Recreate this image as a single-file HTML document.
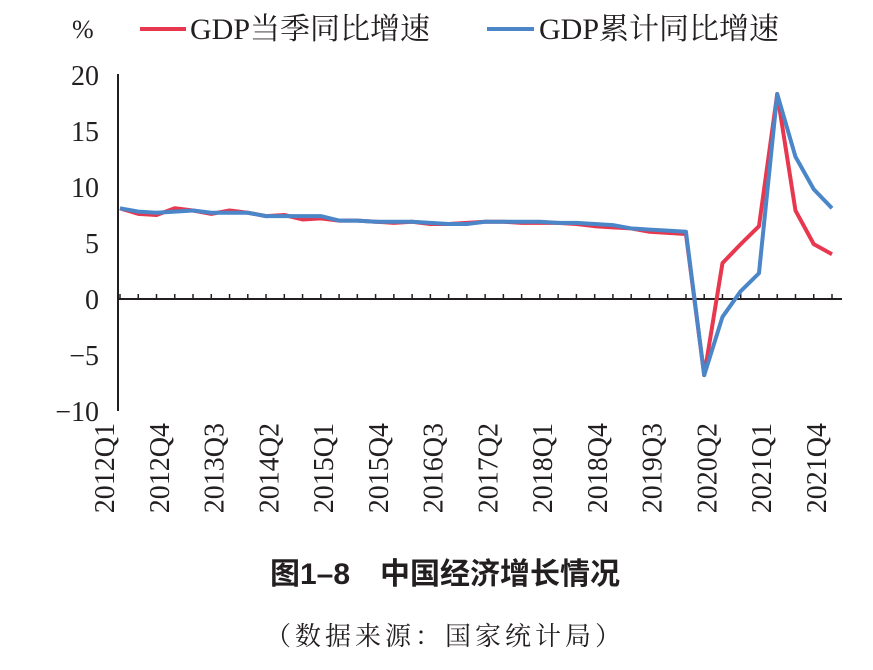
<!DOCTYPE html>
<html><head><meta charset="utf-8"><style>
body{margin:0;background:#fff}
svg text{font-family:"Liberation Serif","Noto Serif CJK SC",serif}
</style></head><body>
<svg id="c" width="873" height="665" xmlns="http://www.w3.org/2000/svg"></svg>
<script>
const quarters=[];for(let y=2012;y<=2021;y++)for(let q=1;q<=4;q++)quarters.push(y+'Q'+q);
const quarterly=[8.1,7.6,7.5,8.1,7.9,7.6,7.9,7.7,7.4,7.5,7.1,7.2,7.0,7.0,6.9,6.8,6.9,6.7,6.7,6.8,6.9,6.9,6.8,6.8,6.8,6.7,6.5,6.4,6.3,6.0,5.9,5.8,-6.8,3.2,4.9,6.5,18.3,7.9,4.9,4.0];
const cumulative=[8.1,7.8,7.7,7.8,7.9,7.7,7.7,7.7,7.4,7.4,7.4,7.4,7.0,7.0,6.9,6.9,6.9,6.8,6.7,6.7,6.9,6.9,6.9,6.9,6.8,6.8,6.7,6.6,6.3,6.2,6.1,6.0,-6.8,-1.6,0.7,2.3,18.3,12.7,9.8,8.1];
const yTicks=[20,15,10,5,0,-5,-10];
const NS='http://www.w3.org/2000/svg',svg=document.getElementById('c');
const X=i=>120+i*(712/39), Y=v=>299-v*11.2;
function mk(t,a,txt){const e=document.createElementNS(NS,t);for(const k in a)e.setAttribute(k,a[k]);if(txt!=null)e.textContent=txt;svg.appendChild(e);return e;}
let e=mk('line',{x1:118,y1:74,x2:118,y2:411,stroke:'#231f20','stroke-width':2});

e=mk('line',{x1:117,y1:Y(0),x2:842,y2:Y(0),stroke:'#231f20','stroke-width':2});

yTicks.forEach(v=>{const t=mk('text',{x:99,y:Y(v)+10,'text-anchor':'end','font-size':28,fill:'#231f20'},v<0?'−'+(-v):String(v));
});
quarters.forEach((q,i)=>{const x=X(i);
const tk=mk('line',{x1:x,y1:Y(0),x2:x,y2:Y(0)-5,stroke:'#231f20','stroke-width':1.5});

if(i%3===0){const t=mk('text',{x:0,y:0,'font-size':28,fill:'#231f20','text-anchor':'end',transform:`translate(${x-6},423) rotate(-90)`},q);
}});
function series(vals,color,name){const p=mk('polyline',{points:vals.map((v,i)=>X(i)+','+Y(v)).join(' '),fill:'none',stroke:color,'stroke-width':4,'stroke-linejoin':'round'});
}
series(quarterly,'#e8384f','series-quarterly-growth');
series(cumulative,'#4a86c8','series-cumulative-growth');
e=mk('text',{x:72,y:38,'font-size':26,fill:'#231f20'},'%');
e=mk('line',{x1:140,y1:29,x2:186,y2:29,stroke:'#e8384f','stroke-width':4});
e=mk('text',{x:190,y:39,'font-size':30,fill:'#231f20'},'GDP当季同比增速');
e=mk('line',{x1:487,y1:29,x2:534,y2:29,stroke:'#4a86c8','stroke-width':4});
e=mk('text',{x:539,y:39,'font-size':30,fill:'#231f20'},'GDP累计同比增速');
e=mk('text',{x:445,y:584,'font-size':30,'font-weight':'bold','text-anchor':'middle',fill:'#231f20',style:'font-family:"Liberation Sans","Noto Sans CJK SC",sans-serif'},'图1–8　中国经济增长情况');
e=mk('text',{x:445,y:645,'font-size':26,'letter-spacing':4,'text-anchor':'middle',fill:'#231f20'},'（数据来源：国家统计局）');
</script>
</body></html>
